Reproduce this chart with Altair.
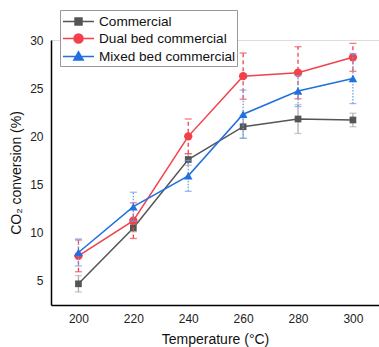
import altair as alt
import pandas as pd

temps = [200, 220, 240, 260, 280, 300]
series_names = ["Commercial", "Dual bed commercial", "Mixed bed commercial"]

commercial = [4.7, 10.5, 17.6, 21.0, 21.8, 21.7]
commercial_err = [0.85, 0.4, 0.6, 1.2, 1.5, 0.7]
dual = [7.6, 11.25, 20.0, 26.25, 26.6, 28.2]
dual_err = [1.65, 1.85, 1.8, 2.4, 2.7, 1.45]
mixed = [7.95, 12.7, 15.9, 22.3, 24.7, 26.0]
mixed_err = [1.4, 1.5, 1.6, 2.5, 1.6, 2.6]

x_ticks = [200, 220, 240, 260, 280, 300]
y_ticks = [5, 10, 15, 20, 25, 30]

colors = ["#555555", "#F2414B", "#2070E0"]
err_colors = ["#B0B0B0", "#F2414B", "#6E9FE8"]
dashes = [[1, 0], [4, 3], [1.5, 1.5]]
shapes = ["square", "circle", "triangle-up"]
sizes = [45, 70, 75]
legend_paths = [
    "M-1,0H2.65M0.415,-0.41H1.235V0.41H0.415Z",
    "M-1,0H2.65M0.295,0A0.53,0.53,0,1,0,1.355,0A0.53,0.53,0,1,0,0.295,0Z",
    "M-1,0H2.65M0.825,-0.55L1.375,0.42L0.275,0.42Z",
]

rows = []
for name, vals, errs in zip(series_names, [commercial, dual, mixed],
                            [commercial_err, dual_err, mixed_err]):
    for t, v, e in zip(temps, vals, errs):
        rows.append({"series": name, "temp": t, "value": v, "err": e})
df = pd.DataFrame(rows)

FONT = "Liberation Sans"
xscale = alt.Scale(domain=[190, 309.5], nice=False, zero=False)
yscale = alt.Scale(domain=[2.5, 30], nice=False, zero=False)

xaxis = alt.Axis(values=x_ticks, ticks=False, grid=False, labelPadding=8,
                 title="Temperature (°C)", titlePadding=8, titleFontSize=14,
                 titleFontWeight="normal", labelFontSize=12, domainColor="#000",
                 domainWidth=1.5, labelColor="#222", titleColor="#111",
                 labelFont=FONT, titleFont=FONT)
yaxis = alt.Axis(values=y_ticks, ticks=False, grid=False, labelPadding=8,
                 title="CO₂ conversion (%)", titlePadding=6, titleFontSize=14,
                 titleFontWeight="normal", labelFontSize=12, domainColor="#000",
                 domainWidth=1.5, labelColor="#222", titleColor="#111",
                 labelFont=FONT, titleFont=FONT)

X = lambda f: alt.X(f, scale=xscale, axis=xaxis, title="Temperature (°C)")
Y = lambda f: alt.Y(f, scale=yscale, axis=yaxis, title="CO₂ conversion (%)")

base = alt.Chart(df)
layers = []
for i, name in enumerate(series_names):
    b = base.transform_filter(alt.datum.series == name)
    line = b.mark_line(color=colors[i], strokeWidth=1.5).encode(
        x=X("temp:Q"), y=Y("value:Q"))
    eb = b.transform_calculate(lo="datum.value - datum.err",
                               hi="datum.value + datum.err")
    rule = eb.mark_rule(color=err_colors[i], strokeWidth=1.3,
                        strokeDash=dashes[i]).encode(
        x=X("temp:Q"), y=Y("lo:Q"), y2="hi:Q")
    cap_lo = eb.mark_tick(color=err_colors[i], orient="horizontal", size=7,
                          thickness=1.3, strokeDash=dashes[i]).encode(
        x=X("temp:Q"), y=Y("lo:Q"))
    cap_hi = eb.mark_tick(color=err_colors[i], orient="horizontal", size=7,
                          thickness=1.3, strokeDash=dashes[i]).encode(
        x=X("temp:Q"), y=Y("hi:Q"))
    pts = b.mark_point(filled=True, opacity=1, color=colors[i], shape=shapes[i],
                       size=sizes[i]).encode(
        x=X("temp:Q"), y=Y("value:Q"))
    layers += [line, rule, cap_lo, cap_hi, pts]

leg = alt.Legend(title=None, orient="none", legendX=9, legendY=-30,
                 symbolSize=289, symbolStrokeWidth=1.5, labelFontSize=13.6,
                 labelFont=FONT, labelColor="#111", labelOffset=18, rowPadding=0,
                 padding=2, strokeColor="#999999", fillColor="#ffffff",
                 symbolOpacity=1)
legend_layer = base.transform_filter("false").mark_point(
    filled=True, opacity=1, strokeWidth=1.5).encode(
    x=X("temp:Q"), y=Y("value:Q"),
    fill=alt.Fill("series:N", scale=alt.Scale(domain=series_names, range=colors), legend=leg),
    stroke=alt.Stroke("series:N", scale=alt.Scale(domain=series_names, range=colors), legend=leg),
    shape=alt.Shape("series:N", scale=alt.Scale(domain=series_names, range=legend_paths), legend=leg),
)
layers.append(legend_layer)

chart = alt.layer(*layers).properties(
    width=328, height=265,
    autosize=alt.AutoSizeParams(type="none"),
    padding={"left": 51, "top": 40, "right": 0, "bottom": 42},
).configure_view(stroke=None).configure(background="white")

chart.save("out.html", embed_options={"renderer": "svg", "actions": False})
